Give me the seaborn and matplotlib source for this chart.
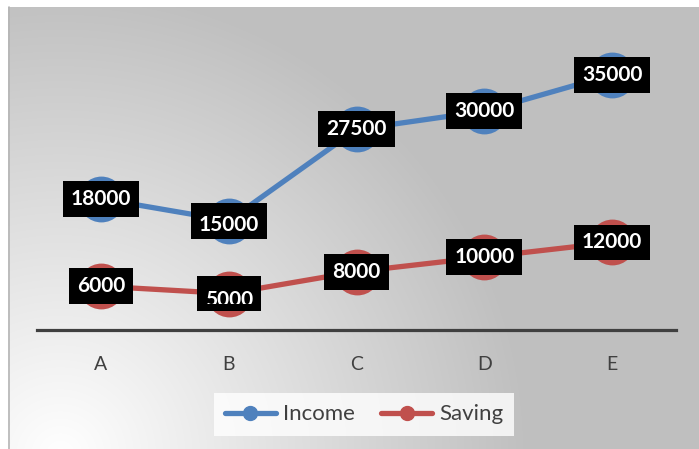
import numpy as np
import pandas as pd
import matplotlib
matplotlib.use("Agg")
import matplotlib.pyplot as plt
import seaborn as sns
from matplotlib.lines import Line2D
from matplotlib.patches import Rectangle
from matplotlib.transforms import Bbox, IdentityTransform

# dados
categorias = ["A", "B", "C", "D", "E"]
income = [18000, 15000, 27500, 30000, 35000]
saving = [6000, 5000, 8000, 10000, 12000]
series = ["Income", "Saving"]
cores = ["#4f81bd", "#c0504d"]

df = pd.DataFrame({
    "cat": categorias * 2,
    "valor": income + saving,
    "serie": ["Income"] * 5 + ["Saving"] * 5,
})

sns.set_style("white")
plt.rcParams["font.family"] = ["Lato", "DejaVu Sans"]

W, H = 699, 449
fig = plt.figure(figsize=(W / 100, H / 100), dpi=100)
fig.patch.set_facecolor("white")

# fundo com gradiente radial (branco no canto inferior esquerdo)
bg = fig.add_axes([8 / W, 0, (W - 8) / W, (H - 7) / H])
yy, xx = np.mgrid[7:H, 8:W]
d = np.sqrt((xx - 60) ** 2 + (yy - 455) ** 2)
t = np.clip(d / 470, 0, 1)
g = (255 - (255 - 191) * t) / 255
bg.imshow(np.dstack([g, g, g]), aspect="auto", extent=(0, 1, 0, 1), interpolation="bilinear")
bg.axis("off")
fig.add_artist(Line2D([8.5 / W, 8.5 / W], [0, (H - 7) / H], color="#b5b5b5", lw=1.2))

# eixo principal
y0 = 330
top = y0 - 40000 * 124 / 17000
ax = fig.add_axes([37 / W, (H - y0) / H, (676 - 37) / W, (y0 - top) / H])
ax.patch.set_alpha(0)

sns.lineplot(data=df, x="cat", y="valor", hue="serie", palette=cores,
             marker="o", markersize=33, markeredgewidth=0, linewidth=3.8,
             ax=ax, legend=False)

ax.set_xlim(-0.5, 4.5)
ax.set_ylim(0, 40000)
ax.set_yticks([])
ax.set_xlabel("")
ax.set_ylabel("")
for s in ["top", "left", "right"]:
    ax.spines[s].set_visible(False)
ax.spines["bottom"].set_color("#404040")
ax.spines["bottom"].set_linewidth(2.3)
ax.tick_params(axis="x", length=0, pad=19, labelsize=14, labelcolor="#404040")

# rótulos de dados (os do ponto B aparecem deslocados e cortados no original)
desloc = {"Income": 3, "Saving": 5}
rotulos = []
for nome, vals in zip(series, [income, saving]):
    for i, v in enumerate(vals):
        a = ax.annotate(str(v), (i, v), xytext=(0, 0), textcoords="offset points",
                        ha="center", va="center", fontsize=15, fontweight="bold",
                        color="white", zorder=6,
                        bbox=dict(boxstyle="square,pad=0.38", fc="black", ec="none"))
        rotulos.append((a, desloc[nome] if categorias[i] == "B" else 0))

# legenda
handles = [Line2D([], [], color=c, lw=3.8, marker="o", markersize=10) for c in cores]
leg = fig.legend(handles, series, loc="center", bbox_to_anchor=(364 / W, 1 - 414.5 / H),
                 ncol=2, fontsize=16, frameon=True, fancybox=False, handlelength=2.3,
                 handletextpad=0.3, columnspacing=1.2, borderpad=0.5)
leg.get_frame().set_facecolor((1, 1, 1, 0.35))
leg.get_frame().set_edgecolor("none")
for t_ in leg.get_texts():
    t_.set_color("#404040")

fig.canvas.draw()
for a, dy in rotulos:
    if dy == 0:
        continue
    bb = a.get_bbox_patch().get_window_extent()
    a.set_bbox(None)
    caixa = Rectangle((bb.x0, bb.y0), bb.width, bb.height, fc="black", ec="none",
                      zorder=5)
    caixa.set_transform(IdentityTransform())
    ax.add_artist(caixa)
    a.xyann = (0, -dy)
    a.set_clip_on(True)
    a.set_clip_box(Bbox.from_extents(bb.x0, bb.y0 + 7, bb.x1, bb.y1))

fig.savefig("out.png", dpi=100)
